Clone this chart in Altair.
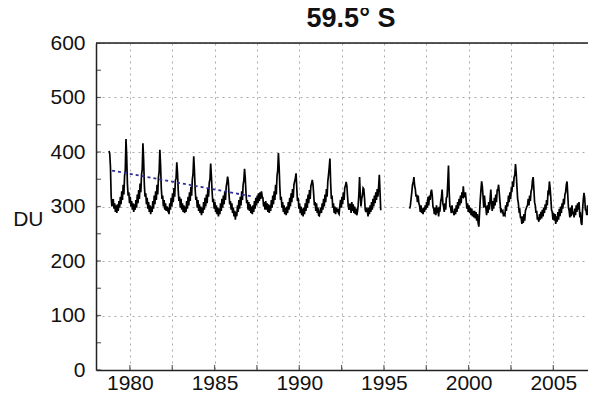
import altair as alt
import pandas as pd

# ---- data (semi-monthly values, DU) ----
v1978 = [402, 396, 372, 318, 300, 312]  # starts at index 18
v1979 = [312, 296, 306, 290, 302, 288, 304, 292, 310, 298, 318, 304, 328, 312, 340, 322, 356, 366, 424, 392, 342, 320, 326, 306]
v1980 = [318, 300, 310, 294, 306, 290, 304, 294, 312, 298, 322, 306, 330, 314, 342, 326, 358, 368, 416, 386, 340, 318, 324, 304]
v1981 = [316, 296, 308, 290, 302, 286, 300, 290, 310, 296, 320, 304, 328, 312, 340, 322, 354, 364, 404, 376, 334, 314, 320, 300]
v1982 = [312, 294, 306, 292, 300, 294, 298, 286, 306, 294, 316, 300, 324, 308, 334, 318, 348, 352, 381, 362, 330, 310, 318, 298]
v1983 = [314, 294, 306, 290, 302, 288, 300, 290, 310, 296, 318, 302, 326, 310, 336, 320, 350, 360, 392, 366, 332, 312, 318, 298]
v1984 = [312, 292, 304, 288, 300, 284, 298, 288, 308, 294, 316, 300, 322, 306, 332, 318, 344, 350, 379, 356, 328, 308, 314, 296]
v1985 = [308, 290, 302, 286, 298, 282, 296, 286, 306, 292, 314, 298, 320, 304, 328, 312, 336, 344, 355, 346, 322, 304, 310, 294]
v1986 = [306, 288, 298, 282, 292, 276, 290, 282, 302, 290, 312, 296, 318, 302, 328, 312, 340, 348, 369, 352, 326, 306, 312, 294]
v1987 = [308, 292, 304, 288, 300, 286, 302, 290, 310, 296, 316, 302, 320, 306, 324, 310, 326, 314, 328, 318, 316, 300, 308, 294]
v1988 = [310, 294, 306, 290, 304, 288, 302, 292, 312, 298, 320, 304, 328, 312, 340, 322, 356, 366, 398, 372, 336, 312, 318, 298]
v1989 = [308, 290, 302, 286, 298, 284, 300, 288, 308, 294, 316, 300, 324, 308, 332, 316, 340, 346, 352, 361, 334, 310, 316, 296]
v1990 = [306, 288, 300, 284, 296, 282, 298, 286, 306, 292, 314, 298, 322, 306, 330, 314, 338, 342, 349, 340, 322, 302, 308, 292]
v1991 = [306, 288, 298, 284, 283, 292, 298, 288, 306, 294, 314, 300, 322, 308, 332, 318, 346, 358, 372, 388, 344, 314, 320, 298]
v1992 = [306, 288, 300, 286, 298, 290, 296, 288, 286, 300, 312, 298, 318, 304, 326, 312, 334, 338, 345, 338, 318, 300, 294, 304]
v1993 = [304, 288, 308, 292, 304, 288, 300, 286, 296, 284, 290, 302, 322, 354, 322, 300, 314, 320, 334, 332, 316, 294, 290, 298]
v1994 = [292, 282, 298, 286, 302, 290, 308, 294, 314, 300, 320, 306, 326, 312, 332, 318, 336, 358, 326, 293]  # ends index 19
v1996 = [296, 302, 314, 326, 340, 344, 354, 338, 332, 318, 322, 308]  # starts at index 12
v1997 = [320, 306, 302, 290, 302, 288, 292, 286, 298, 290, 302, 294, 308, 298, 318, 302, 320, 312, 326, 331, 320, 300, 296, 286]
v1998 = [298, 284, 302, 288, 298, 282, 296, 294, 310, 316, 331, 306, 300, 290, 306, 294, 316, 318, 344, 375, 326, 300, 298, 288]
v1999 = [302, 290, 290, 284, 296, 286, 302, 290, 308, 296, 314, 302, 320, 306, 326, 316, 337, 318, 320, 326, 312, 296, 306, 290]
v2000 = [302, 288, 298, 284, 296, 282, 292, 280, 292, 278, 290, 274, 286, 270, 263, 288, 312, 330, 346, 336, 318, 298, 320, 302]
v2001 = [298, 284, 302, 288, 308, 294, 314, 331, 306, 292, 310, 296, 316, 302, 322, 308, 330, 330, 340, 324, 308, 292, 294, 290]
v2002 = [292, 282, 286, 284, 302, 292, 308, 300, 320, 308, 326, 314, 332, 330, 346, 336, 354, 358, 378, 360, 336, 314, 306, 292]
v2003 = [294, 280, 280, 268, 282, 270, 286, 274, 292, 296, 300, 302, 314, 302, 320, 310, 328, 332, 348, 354, 332, 308, 302, 288]
v2004 = [292, 276, 280, 272, 286, 276, 290, 278, 294, 282, 298, 288, 304, 294, 312, 302, 326, 324, 346, 334, 316, 294, 290, 276]
v2005 = [288, 274, 286, 268, 282, 272, 290, 276, 296, 282, 300, 288, 306, 296, 314, 304, 322, 326, 340, 346, 322, 298, 292, 280]
v2006 = [298, 282, 302, 286, 290, 280, 296, 284, 302, 290, 306, 294, 308, 284, 286, 270, 266, 294, 312, 325, 316, 294, 292, 284]
v2007 = [302, 284, 298, 276, 294, 272, 292, 280, 300, 306, 288, 296]

# (year, first semi-month index, values, segment)
series_blocks = [
    (1978, 18, v1978, 1), (1979, 0, v1979, 1), (1980, 0, v1980, 1), (1981, 0, v1981, 1),
    (1982, 0, v1982, 1), (1983, 0, v1983, 1), (1984, 0, v1984, 1), (1985, 0, v1985, 1),
    (1986, 0, v1986, 1), (1987, 0, v1987, 1), (1988, 0, v1988, 1), (1989, 0, v1989, 1),
    (1990, 0, v1990, 1), (1991, 0, v1991, 1), (1992, 0, v1992, 1), (1993, 0, v1993, 1),
    (1994, 0, v1994, 1),
    (1996, 12, v1996, 2), (1997, 0, v1997, 2), (1998, 0, v1998, 2), (1999, 0, v1999, 2),
    (2000, 0, v2000, 2), (2001, 0, v2001, 2), (2002, 0, v2002, 2), (2003, 0, v2003, 2),
    (2004, 0, v2004, 2), (2005, 0, v2005, 2), (2006, 0, v2006, 2), (2007, 0, v2007, 2),
]

trend_years = [1978.95, 1987.3]
trend_values = [366, 318]

x_ticks = [1980, 1982.5, 1985, 1987.5, 1990, 1992.5, 1995, 1997.5, 2000, 2002.5, 2005]
y_ticks = [0, 50, 100, 150, 200, 250, 300, 350, 400, 450, 500, 550, 600]
x_range = [1978, 2007.05]
y_range = [0, 600]

rows = []
for yr, i0, vals, seg in series_blocks:
    for k, v in enumerate(vals):
        rows.append({"t": yr + (i0 + k + 0.5) / 24.0, "du": v, "seg": seg})
df = pd.DataFrame(rows)
trend = pd.DataFrame({"t": trend_years, "du": trend_values})
xt = pd.DataFrame({"t": x_ticks})
yt = pd.DataFrame({"du": y_ticks})
top = pd.DataFrame({"du": [y_range[1]]})

W, H = 492, 327
FONT = "Liberation Sans"

xscale = alt.Scale(domain=x_range, nice=False, zero=False)
yscale = alt.Scale(domain=y_range, nice=False)

xaxis = alt.Axis(values=x_ticks, labelExpr="datum.value % 5 == 0 ? format(datum.value, 'd') : ''",
                 ticks=False, grid=True, gridDash=[2, 4], gridColor="#aaaaaa", gridWidth=1,
                 domainColor="#222222", domainWidth=1.5, labelFontSize=21, labelFont=FONT,
                 labelColor="#111111", labelPadding=2, title=None, labelFlush=False)
yaxis = alt.Axis(values=y_ticks, labelExpr="datum.value % 100 == 0 ? datum.label : ''",
                 ticks=False, grid=True, gridDash=[2, 4], gridColor="#aaaaaa", gridWidth=1,
                 domainColor="#222222", domainWidth=1.5, labelFontSize=21, labelFont=FONT,
                 labelColor="#111111", labelPadding=11, title="DU", titleAngle=0,
                 titleFontSize=21, titleFont=FONT, titleFontWeight="normal", titleColor="#111111",
                 titleAlign="right", titleBaseline="middle", titleX=-53, titleY=176)

line = alt.Chart(df).mark_line(color="black", strokeWidth=1.7, clip=True).encode(
    x=alt.X("t:Q", scale=xscale, axis=xaxis),
    y=alt.Y("du:Q", scale=yscale, axis=yaxis),
    detail="seg:N",
)

trend_line = alt.Chart(trend).mark_line(color="#2e2e96", strokeWidth=1.8, strokeDash=[3, 3]).encode(
    x=alt.X("t:Q", scale=xscale), y=alt.Y("du:Q", scale=yscale)
)

top_frame = alt.Chart(top).mark_rule(color="#222222", strokeWidth=1.5).encode(
    y=alt.Y("du:Q", scale=yscale)
)

xtick_marks = alt.Chart(xt).mark_tick(color="#222222", size=10, thickness=1.2, clip=True, orient="vertical").encode(
    x=alt.X("t:Q", scale=xscale), y=alt.value(H)
)
ytick_marks = alt.Chart(yt).mark_tick(color="#222222", size=10, thickness=1.2, clip=True, orient="horizontal").encode(
    y=alt.Y("du:Q", scale=yscale), x=alt.value(0)
)

chart = alt.layer(line, trend_line, top_frame, xtick_marks, ytick_marks).properties(
    width=W, height=H,
    title=alt.TitleParams("59.5° S", fontSize=27, fontWeight="bold", font=FONT, color="#111111",
                          anchor="middle", baseline="top", offset=8, dy=9, dx=9),
    autosize=alt.AutoSizeParams(type="none"),
    padding={"left": 88, "top": 35, "right": 0, "bottom": 23},
).configure_view(stroke=None).configure(background="white")

chart.save("out.html", embed_options={"renderer": "svg", "actions": False})
